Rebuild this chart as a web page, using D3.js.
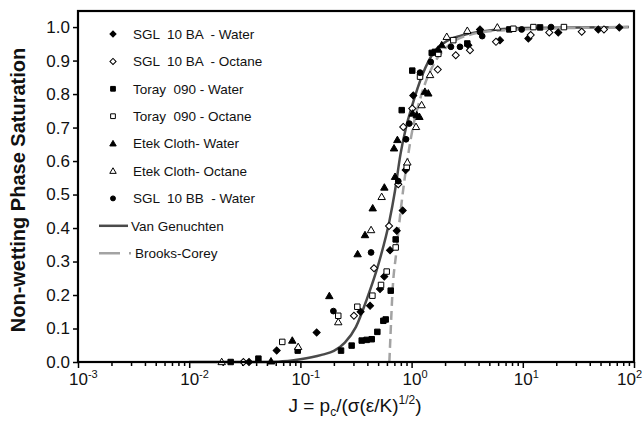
<!DOCTYPE html>
<html>
<head>
<meta charset="utf-8">
<script src="https://cdn.jsdelivr.net/npm/d3@7"></script>
<style>
body { margin: 0; background: #fff; }
svg { display: block; font-family: Arial, "Liberation Sans", sans-serif; }
</style>
</head>
<body>
<div id="chart"></div>
<script>
const width = 643, height = 421;

// ---- data: [J, saturation] ----
const sglBaWater = [[0.0345,0],[0.0612,0.034],[0.140,0.088],[0.348,0.15],[0.423,0.168],[0.520,0.218],[0.568,0.255],[0.640,0.334],[0.735,0.392],[0.832,0.452],[0.885,0.573],[1.035,0.796],[3.236,0.946],[4.121,0.993],[6.237,0.961],[11.22,0.966],[20.84,0.984],[47.75,0.993],[73.79,0.999]];
const sglBaOctane = [[0.0307,0],[0.303,0.138],[0.459,0.28],[0.627,0.406],[0.759,0.531],[0.841,0.702],[1.014,0.757],[1.718,0.873],[2.495,0.916],[3.350,0.931],[5.741,0.956],[11.78,0.976],[17.30,0.984],[33.88,0.986],[53.70,0.993]];
const torayWater = [[0.0236,0],[0.0419,0.01],[0.0946,0.034],[0.232,0.034],[0.289,0.049],[0.356,0.064],[0.394,0.066],[0.438,0.068],[0.492,0.09],[0.557,0.123],[0.585,0.127],[0.649,0.213],[0.719,0.366],[0.815,0.752],[1.014,0.87],[1.517,0.923],[1.622,0.926],[3.17,0.951],[7.568,0.993],[14.29,0.999]];
const torayOctane = [[0.0687,0.06],[0.219,0.138],[0.325,0.165],[0.444,0.198],[0.531,0.23],[0.597,0.27],[0.719,0.342],[0.904,0.583],[1.191,0.852],[1.738,0.92],[2.371,0.961],[8.222,0.995],[12.45,1.0],[23.44,1.0]];
const etekWater = [[0.0544,0.002],[0.0845,0.064],[0.182,0.197],[0.327,0.322],[0.381,0.379],[0.447,0.459],[0.569,0.521],[0.710,0.553],[0.695,0.638],[0.745,0.663],[1.023,0.742],[1.112,0.737],[1.175,0.732],[1.318,0.807],[1.413,0.802],[1.738,0.933],[1.866,0.946]];
const etekOctane = [[0.0196,0],[0.0955,0.045],[0.219,0.119],[0.432,0.394],[0.538,0.493],[0.916,0.596],[1.096,0.702],[1.230,0.767],[1.466,0.857],[2.070,0.971],[3.170,0.989],[5.902,0.999]];
const sglBbWater = [[0.198,0.152],[0.432,0.327],[0.759,0.54],[0.891,0.665],[0.953,0.712],[1.191,0.864],[1.486,0.896],[2.259,0.941],[2.723,0.941],[4.121,0.985],[4.315,0.973],[9.772,0.993],[17.95,1.0]];

// model curves
const vanGenuchten = [[0.01,0],[0.0316,0],[0.0631,0.001],[0.1,0.008],[0.126,0.014],[0.158,0.022],[0.2,0.033],[0.251,0.058],[0.316,0.105],[0.398,0.19],[0.501,0.29],[0.631,0.42],[0.708,0.51],[0.794,0.62],[0.891,0.70],[1.0,0.76],[1.259,0.86],[1.585,0.925],[1.995,0.955],[2.818,0.975],[5.01,0.99],[10,0.997],[90,1.0]];
const brooksCorey = [[0.631,0],[0.646,0.08],[0.676,0.22],[0.724,0.32],[0.787,0.435],[0.855,0.534],[0.933,0.62],[1.0,0.68],[1.23,0.8],[1.585,0.89],[1.995,0.935],[3.162,0.975],[6.31,0.99],[89,1.0]];

const decades = [1e-3, 1e-2, 1e-1, 1, 10, 100];
const decadeExponents = ["-3", "-2", "-1", "0", "1", "2"];
const yTicks = [0, 0.1, 0.2, 0.3, 0.4, 0.5, 0.6, 0.7, 0.8, 0.9, 1.0];

const series = [
	{name: "SGL  10 BA  - Water", data: sglBaWater, shape: "diamond", filled: true},
	{name: "SGL  10 BA  - Octane", data: sglBaOctane, shape: "diamond", filled: false},
	{name: "Toray  090 - Water", data: torayWater, shape: "square", filled: true},
	{name: "Toray  090 - Octane", data: torayOctane, shape: "square", filled: false},
	{name: "Etek Cloth- Water", data: etekWater, shape: "triangle", filled: true},
	{name: "Etek Cloth- Octane", data: etekOctane, shape: "triangle", filled: false},
	{name: "SGL  10 BB  - Water", data: sglBbWater, shape: "circle", filled: true}
];
const curves = [
	{name: "Van Genuchten", data: vanGenuchten, color: "#4a4a4a", dash: null},
	{name: "Brooks-Corey", data: brooksCorey, color: "#a3a3a3", dash: "9,5"}
];

const svg = d3.select("#chart")
	.append("svg")
	.attr("width", width)
	.attr("height", height);

const x = d3.scaleLog().domain([1e-3, 1e2]).range([78, 634]);
const y = d3.scaleLinear().domain([0, 1.048]).range([362, 11]);

// symbol generator
function symbolPath(shape, scale) {
	scale = scale || 1;
	if (shape === "diamond") return d3.symbol(d3.symbolSquare, 25 * scale)();
	if (shape === "square") return d3.symbol(d3.symbolSquare, 30 * scale)();
	if (shape === "triangle") return d3.symbol(d3.symbolTriangle, 24 * scale)();
	return d3.symbol(d3.symbolCircle, 26 * scale)();
}
function symbolTransform(shape, px, py) {
	if (shape === "diamond") return `translate(${px},${py}) rotate(45)`;
	if (shape === "triangle") return `translate(${px},${py + 0.5})`;
	return `translate(${px},${py})`;
}

// ---- axes ----
const yAxis = svg.append("g")
	.attr("transform", "translate(78,0)")
	.call(d3.axisLeft(y).tickValues(yTicks).tickFormat(d3.format(".1f")).tickSize(5).tickPadding(3));
yAxis.select(".domain").remove();
yAxis.selectAll("line").attr("stroke", "#000").attr("stroke-width", 1.5);
yAxis.selectAll("text").attr("font-size", 17).attr("fill", "#111").attr("font-family", "Arial, 'Liberation Sans', sans-serif");

const minorTicks = [];
decades.slice(0, -1).forEach(d => { for (let k = 2; k < 10; k++) minorTicks.push(k * d); });

const xMinor = svg.append("g")
	.attr("transform", "translate(0,362)")
	.call(d3.axisBottom(x).tickValues(minorTicks).tickFormat("").tickSize(4));
xMinor.select(".domain").remove();
xMinor.selectAll("line").attr("stroke", "#000").attr("stroke-width", 1.5);

const xMajor = svg.append("g")
	.attr("transform", "translate(0,362)")
	.call(d3.axisBottom(x).tickValues(decades).tickFormat("").tickSize(6));
xMajor.select(".domain").remove();
xMajor.selectAll("line").attr("stroke", "#000").attr("stroke-width", 1.5);

const xLabels = svg.append("g")
	.selectAll("text")
	.data(decades)
	.enter()
	.append("text")
	.attr("x", (d, i) => Math.min(x(d) - 9, 617))
	.attr("y", 385)
	.attr("font-size", 17)
	.attr("fill", "#111");
xLabels.append("tspan").text("10");
xLabels.append("tspan")
	.attr("font-size", 11)
	.attr("dy", -7)
	.text((d, i) => decadeExponents[i]);

// ---- curves ----
const line = d3.line()
	.x(d => x(d[0]))
	.y(d => y(d[1]))
	.curve(d3.curveMonotoneX);

svg.append("g")
	.selectAll("path")
	.data(curves)
	.enter()
	.append("path")
	.attr("d", d => line(d.data))
	.attr("fill", "none")
	.attr("stroke", d => d.color)
	.attr("stroke-width", 2.5)
	.attr("stroke-dasharray", d => d.dash);

// ---- points ----
series.forEach(s => {
	svg.append("g")
		.selectAll("path")
		.data(s.data)
		.enter()
		.append("path")
		.attr("d", symbolPath(s.shape))
		.attr("transform", d => symbolTransform(s.shape, x(d[0]), y(d[1])))
		.attr("fill", s.filled ? "#000" : "#fff")
		.attr("stroke", "#000")
		.attr("stroke-width", 1);
});

// ---- frame ----
svg.append("rect")
	.attr("x", 78)
	.attr("y", 11)
	.attr("width", 556)
	.attr("height", 351)
	.attr("fill", "none")
	.attr("stroke", "#000")
	.attr("stroke-width", 2.2);

// ---- legend ----
const legend = svg.append("g");
const rowY = i => 34 + 27.4 * i;

series.forEach((s, i) => {
	legend.append("path")
		.attr("d", symbolPath(s.shape, 0.75))
		.attr("transform", symbolTransform(s.shape, 113, rowY(i)))
		.attr("fill", s.filled ? "#000" : "#fff")
		.attr("stroke", "#000")
		.attr("stroke-width", 1);
	legend.append("text")
		.attr("x", 133)
		.attr("y", rowY(i))
		.attr("dy", "0.36em")
		.attr("font-size", 13.5)
		.attr("fill", "#111")
		.style("white-space", "pre")
		.text(s.name);
});

curves.forEach((c, j) => {
	const i = series.length + j;
	legend.append("line")
		.attr("x1", 99)
		.attr("x2", c.dash ? 131 : 128)
		.attr("y1", rowY(i))
		.attr("y2", rowY(i))
		.attr("stroke", c.color)
		.attr("stroke-width", 2.5)
		.attr("stroke-dasharray", c.dash ? "21,9" : null);
	legend.append("text")
		.attr("x", c.dash ? 135 : 131)
		.attr("y", rowY(i))
		.attr("dy", "0.36em")
		.attr("font-size", 13.5)
		.attr("fill", "#111")
		.text(c.name);
});

// ---- axis titles ----
svg.append("text")
	.attr("transform", "translate(25,190) rotate(-90)")
	.attr("text-anchor", "middle")
	.attr("font-size", 20)
	.attr("font-weight", "bold")
	.attr("fill", "#111")
	.text("Non-wetting Phase Saturation");

const xTitle = svg.append("text")
	.attr("x", 355)
	.attr("y", 412)
	.attr("text-anchor", "middle")
	.attr("font-size", 19)
	.attr("fill", "#111");
xTitle.append("tspan").text("J = p");
xTitle.append("tspan").attr("font-size", 12).attr("dy", 4).text("c");
xTitle.append("tspan").attr("dy", -4).text("/(σ(ε/K)");
xTitle.append("tspan").attr("font-size", 12).attr("dy", -8).text("1/2");
xTitle.append("tspan").attr("dy", 8).text(")");
</script>
</body>
</html>
